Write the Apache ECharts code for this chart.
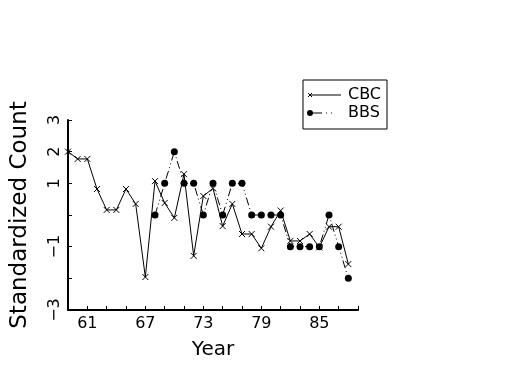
<!DOCTYPE html>
<html>
<head>
<meta charset="utf-8">
<script src="https://cdn.jsdelivr.net/npm/echarts@6/dist/echarts.min.js"></script>
<style>html,body{margin:0;padding:0;background:#fff}#c{width:525px;height:375px}</style>
</head>
<body>
<div id="c"></div>
<script>
var years = [59,60,61,62,63,64,65,66,67,68,69,70,71,72,73,74,75,76,77,78,79,80,81,82,83,84,85,86,87,88];
var cbc = [2.0,1.77,1.77,0.82,0.16,0.16,0.82,0.35,-1.96,1.07,0.38,-0.09,1.29,-1.29,0.6,0.84,-0.35,0.35,-0.6,-0.6,-1.05,-0.37,0.14,-0.82,-0.82,-0.6,-1.02,-0.37,-0.37,-1.55];
var bbsYears = [68,69,70,71,72,73,74,75,76,77,78,79,80,81,82,83,84,85,86,87,88];
var bbs = [0,1,2,1,1,0,1,0,1,1,0,0,0,0,-1,-1,-1,-1,0,-1,-2];
var xTickLabels = [61,67,73,79,85];
var yTickLabels = [3,2,1,-1,-3];

var FONT = 'DejaVu Sans';
var chart = echarts.init(document.getElementById('c'), null, {renderer:'canvas'});
var crossPath = 'path://M0,0L10,10M10,0L0,10';

chart.setOption({
  animation: false,
  backgroundColor: '#fff',
  grid: {left: 68, right: 167, top: 120, bottom: 65, containLabel: false},
  xAxis: {
    type: 'value', min: 59, max: 89, interval: 2,
    name: 'Year', nameLocation: 'middle', nameGap: 30,
    nameTextStyle: {fontFamily: FONT, fontSize: 20, color: '#000'},
    axisLine: {onZero: false, lineStyle: {color: '#000', width: 2}},
    axisTick: {inside: true, length: 4, lineStyle: {color: '#000', width: 1}},
    splitLine: {show: false},
    axisLabel: {
      fontFamily: FONT, fontSize: 16, color: '#000', margin: 6,
      formatter: function (v) { return xTickLabels.indexOf(v) >= 0 ? String(v) : ''; }
    }
  },
  yAxis: {
    type: 'value', min: -3, max: 3, interval: 1,
    name: 'Standardized Count', nameLocation: 'middle', nameGap: 36, nameRotate: 90,
    nameTextStyle: {fontFamily: FONT, fontSize: 23, color: '#000'},
    axisLine: {show: true, onZero: false, lineStyle: {color: '#000', width: 2}},
    axisTick: {show: true, inside: true, length: 4, lineStyle: {color: '#000', width: 1}},
    splitLine: {show: false},
    axisLabel: {
      fontFamily: FONT, fontSize: 16, color: '#000', rotate: 90, margin: 5,
      formatter: function (v) { return yTickLabels.indexOf(v) >= 0 ? String(v).replace('-', '\u2212') : ''; }
    }
  },
  series: [
    {
      name: 'CBC', type: 'line',
      data: years.map(function (y, i) { return [y, cbc[i]]; }),
      symbol: crossPath, symbolSize: 6, showAllSymbol: true,
      lineStyle: {color: '#000', width: 1, type: 'solid'},
      itemStyle: {color: '#000', borderColor: '#000', borderWidth: 1}
    },
    {
      name: 'BBS', type: 'line',
      data: bbsYears.map(function (y, i) { return [y, bbs[i]]; }),
      symbol: 'circle', symbolSize: 7, showAllSymbol: true,
      lineStyle: {color: '#000', width: 1, type: [8, 3, 1, 3, 1, 3]},
      itemStyle: {color: '#000', borderWidth: 0}
    }
  ],
  graphic: [
    {type: 'rect', shape: {x: 303, y: 80, width: 84, height: 49}, style: {fill: '#fff', stroke: '#000', lineWidth: 1}},
    {type: 'line', shape: {x1: 310, y1: 95, x2: 341, y2: 95}, style: {stroke: '#000', lineWidth: 1}},
    {type: 'polyline', shape: {points: [[308, 93], [312, 97]]}, style: {stroke: '#000', lineWidth: 1}},
    {type: 'polyline', shape: {points: [[312, 93], [308, 97]]}, style: {stroke: '#000', lineWidth: 1}},
    {type: 'text', style: {x: 348, y: 95, text: 'CBC', fontFamily: FONT, fontSize: 16, fill: '#000', verticalAlign: 'middle'}},
    {type: 'circle', shape: {cx: 310, cy: 113, r: 3}, style: {fill: '#000'}},
    {type: 'line', shape: {x1: 310, y1: 113, x2: 341, y2: 113}, style: {stroke: '#000', lineWidth: 1, lineDash: [12, 4, 1, 4, 1, 20]}},
    {type: 'text', style: {x: 348, y: 113, text: 'BBS', fontFamily: FONT, fontSize: 16, fill: '#000', verticalAlign: 'middle'}}
  ]
});
</script>
</body>
</html>
